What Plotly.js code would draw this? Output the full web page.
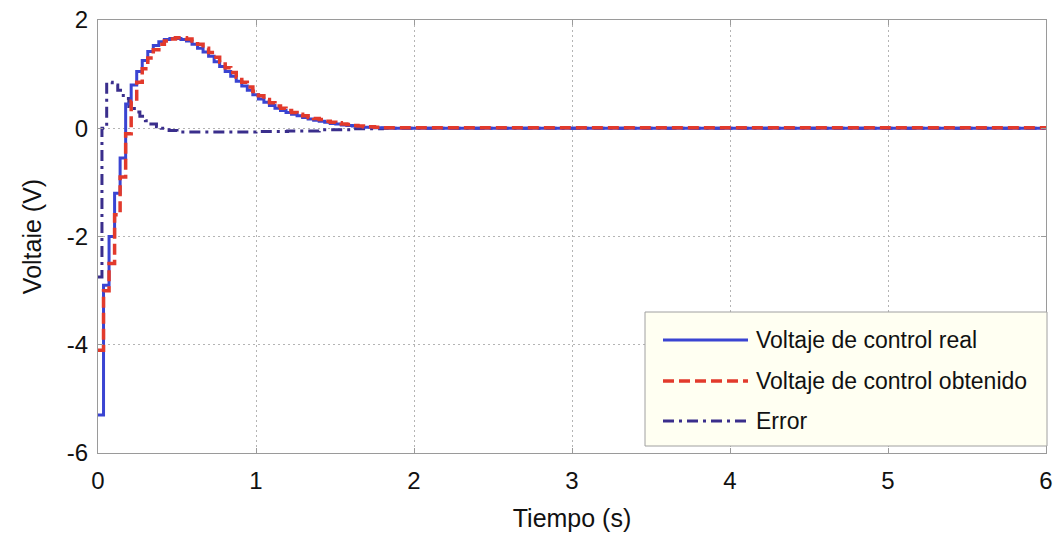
<!DOCTYPE html>
<html>
<head>
<meta charset="utf-8">
<script src="https://cdn.plot.ly/plotly-3.0.1.min.js"></script>
<style>
html,body{margin:0;padding:0;background:#fff;}
#chart{width:1062px;height:539px;}
</style>
</head>
<body>
<div id="chart"></div>
<script>
// Time base (s) for the sampled control signals
var tControl = [0, 0.035, 0.07, 0.105, 0.14, 0.175, 0.21, 0.245, 0.28, 0.315, 0.35, 0.385, 0.42, 0.455, 0.49, 0.525,
  0.56, 0.595, 0.63, 0.665, 0.70, 0.735, 0.77, 0.805, 0.84, 0.875, 0.91, 0.945, 0.98, 1.015, 1.05, 1.085, 1.12,
  1.155, 1.19, 1.225, 1.26, 1.295, 1.33, 1.365, 1.40, 1.435, 1.47, 1.505, 1.54, 1.575, 1.61, 1.645, 1.68, 1.715,
  1.75, 1.785, 1.82, 6.0];
// Voltaje de control real (V)
var vReal = [-5.3, -2.9, -2.0, -1.2, -0.55, 0.45, 0.8, 1.05, 1.25, 1.42, 1.53, 1.6, 1.64, 1.66, 1.66, 1.64,
  1.61, 1.55, 1.48, 1.41, 1.33, 1.23, 1.14, 1.05, 0.96, 0.87, 0.78, 0.70, 0.62, 0.54, 0.48, 0.42, 0.37,
  0.33, 0.29, 0.26, 0.23, 0.20, 0.17, 0.15, 0.13, 0.11, 0.09, 0.08, 0.06, 0.05, 0.04, 0.03, 0.02, 0.02,
  0.01, 0.01, 0.0, 0.0];
// Voltaje de control obtenido (V)
var vObtenido = [-4.1, -3.0, -2.5, -1.6, -0.9, -0.1, 0.5, 0.85, 1.1, 1.3, 1.45, 1.55, 1.61, 1.65, 1.67, 1.67,
  1.65, 1.61, 1.55, 1.48, 1.40, 1.31, 1.22, 1.12, 1.03, 0.94, 0.85, 0.76, 0.68, 0.60, 0.53, 0.47, 0.41,
  0.37, 0.33, 0.29, 0.26, 0.23, 0.20, 0.18, 0.16, 0.13, 0.11, 0.10, 0.08, 0.07, 0.05, 0.04, 0.03, 0.03,
  0.02, 0.01, 0.01, 0.0];
// Error
var tError = [0, 0.025, 0.055, 0.09, 0.125, 0.16, 0.195, 0.23, 0.265, 0.30, 0.335, 0.37, 0.40, 0.45, 0.5, 0.7,
  0.9, 1.0, 1.2, 1.4, 1.6, 1.8, 6.0];
var vError = [-2.75, 0.0, 0.85, 0.8, 0.7, 0.55, 0.4, 0.3, 0.22, 0.14, 0.08, 0.03, 0.0, -0.04, -0.07, -0.07,
  -0.07, -0.06, -0.05, -0.03, -0.01, 0.0, 0.0];

var seriesNames = ['Voltaje de control real', 'Voltaje de control obtenido', 'Error'];
var xTicks = [0, 1, 2, 3, 4, 5, 6];
var xTickText = ['0', '1', '2', '3', '4', '5', '6'];
var yTicks = [-6, -4, -2, 0, 2];
var yTickText = ['-6', '-4', '-2', '0', '2'];

var colors = ['#3a44d2', '#e23a2c', '#3a2e8c'];
var dashes = ['solid', '11px,5px', '11px,5px,3px,5px'];
var widths = [3, 3.5, 3];
var FONT = 'Liberation Sans, Arial, sans-serif';

var traces = [
  {x: tError, y: vError, name: seriesNames[2], mode: 'lines', line: {shape: 'hv', color: colors[2], width: widths[2], dash: dashes[2]}},
  {x: tControl, y: vReal, name: seriesNames[0], mode: 'lines', line: {shape: 'hv', color: colors[0], width: widths[0], dash: dashes[0]}},
  {x: tControl, y: vObtenido, name: seriesNames[1], mode: 'lines', line: {shape: 'hv', color: colors[1], width: widths[1], dash: dashes[1]}}
];

// manual legend (MATLAB style)
var L = 98, R = 1046, T = 20, B = 453;
function px(p) { return (p - L) / (R - L); }
function py(p) { return (B - p) / (B - T); }
var shapes = [
  {type: 'rect', xref: 'paper', yref: 'paper', x0: px(645), x1: px(1047), y0: py(446), y1: py(312),
   fillcolor: '#fffff2', line: {color: '#a0a0a0', width: 1}, layer: 'above'}
];
var annotations = [];
var rowY = [340, 381, 421];
for (var i = 0; i < 3; i++) {
  shapes.push({type: 'line', xref: 'paper', yref: 'paper', x0: px(663), x1: px(748), y0: py(rowY[i]), y1: py(rowY[i]),
    line: {color: colors[i], width: widths[i], dash: dashes[i]}, layer: 'above'});
  annotations.push({xref: 'paper', yref: 'paper', x: px(754), y: py(rowY[i]), xanchor: 'left', yanchor: 'middle',
    text: seriesNames[i], showarrow: false, font: {family: FONT, size: 23, color: '#111'}});
}

var axisCommon = {
  showgrid: true, gridcolor: '#b4b4b4', griddash: '2px,3px', gridwidth: 1,
  zeroline: false, showline: true, linecolor: '#9a9a9a', linewidth: 1, mirror: 'ticks',
  ticks: 'inside', ticklen: 5, tickcolor: '#9a9a9a',
  tickfont: {family: FONT, size: 24, color: '#111'}
};

var layout = {
  width: 1062, height: 539,
  margin: {l: 98, r: 16, t: 20, b: 86},
  paper_bgcolor: '#ffffff', plot_bgcolor: '#ffffff',
  showlegend: false,
  xaxis: Object.assign({}, axisCommon, {
    range: [0, 6], tickvals: xTicks, ticktext: xTickText, ticklabelstandoff: 6,
    title: {text: 'Tiempo (s)', font: {family: FONT, size: 25, color: '#111'}, standoff: 16}
  }),
  yaxis: Object.assign({}, axisCommon, {
    range: [-6, 2], tickvals: yTicks, ticktext: yTickText, ticklabelstandoff: 4,
    title: {text: 'Voltaie (V)', font: {family: FONT, size: 25, color: '#111'}, standoff: 18}
  }),
  shapes: shapes,
  annotations: annotations
};

Plotly.newPlot('chart', traces, layout, {staticPlot: true, displayModeBar: false});
</script>
</body>
</html>
